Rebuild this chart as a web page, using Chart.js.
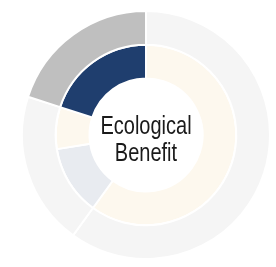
<!DOCTYPE html>
<html>
<head>
<meta charset="utf-8">
<script src="https://cdn.jsdelivr.net/npm/chart.js@4"></script>
<style>
  html, body { margin: 0; padding: 0; background: #ffffff; }
  #wrap { position: relative; width: 276px; height: 267px; }
  #c { position: absolute; left: 0; top: 0; }
  #center {
    position: absolute; left: 146px; top: 139px;
    transform: translate(-50%, -50%) scaleX(0.8);
    font-family: "Liberation Sans", Arial, sans-serif;
    font-size: 25px; line-height: 27px; color: #1a1a1a; text-align: center; white-space: nowrap;
  }
</style>
</head>
<body>
<div id="wrap">
  <canvas id="c" width="276" height="267"></canvas>
  <div id="center">Ecological<br>Benefit</div>
</div>
<script>
const outerLabels = ["Other", "Remaining", "Ecological Benefit"];
const outerValues = [60, 20, 20];
const innerLabels = ["Other", "Part B", "Part C", "Ecological Benefit"];
const innerValues = [60, 12.5, 7.5, 20];

const outerColors = ["#f5f5f5", "#f5f5f5", "#bfbfbf"];
const innerColors = ["#fdf8ee", "#e8ebf0", "#fdf8ee", "#1f3e6e"];

new Chart(document.getElementById("c"), {
  type: "doughnut",
  data: {
    labels: innerLabels,
    datasets: [
      { data: outerValues, backgroundColor: outerColors, borderColor: "#ffffff", borderWidth: 2 },
      { data: innerValues, backgroundColor: innerColors, borderColor: "#ffffff", borderWidth: 2 }
    ]
  },
  options: {
    responsive: false,
    animation: false,
    cutout: "45.6%",
    layout: { padding: { left: 21, right: 5, top: 10, bottom: 7 } },
    plugins: { legend: { display: false }, tooltip: { enabled: false } }
  }
});
</script>
</body>
</html>
